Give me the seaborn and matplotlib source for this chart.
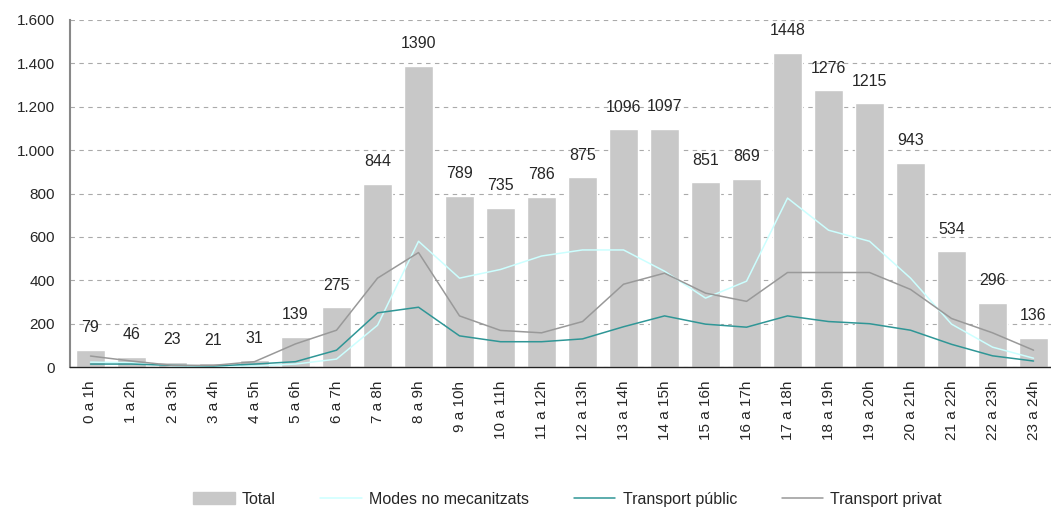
import matplotlib
matplotlib.use("Agg")
import matplotlib.pyplot as plt
import matplotlib.ticker as mticker
from matplotlib.patches import Patch
from matplotlib.lines import Line2D
import numpy as np
import pandas as pd
import seaborn as sns

# dades
franges = ['0 a 1h', '1 a 2h', '2 a 3h', '3 a 4h', '4 a 5h', '5 a 6h', '6 a 7h',
           '7 a 8h', '8 a 9h', '9 a 10h', '10 a 11h', '11 a 12h', '12 a 13h',
           '13 a 14h', '14 a 15h', '15 a 16h', '16 a 17h', '17 a 18h', '18 a 19h',
           '19 a 20h', '20 a 21h', '21 a 22h', '22 a 23h', '23 a 24h']
total = [79, 46, 23, 21, 31, 139, 275, 844, 1390, 789, 735, 786, 875, 1096,
         1097, 851, 869, 1448, 1276, 1215, 943, 534, 296, 136]
no_mecanitzats = [23, 20, 6, 5, 5, 14, 37, 193, 580, 410, 450, 512, 540, 540,
                  442, 318, 396, 779, 631, 580, 410, 198, 92, 41]
transport_public = [14, 14, 8, 5, 14, 25, 78, 250, 276, 144, 117, 117, 130, 186,
                    236, 198, 184, 236, 210, 200, 170, 105, 52, 28]
transport_privat = [51, 28, 8, 8, 25, 107, 170, 410, 528, 236, 169, 158, 210, 382,
                    433, 341, 303, 436, 436, 436, 358, 224, 158, 78]

df = pd.DataFrame({'franja': franges, 'total': total})
pos = np.arange(len(franges))

sns.set_style('white')
plt.rcParams['font.family'] = ['Liberation Sans', 'DejaVu Sans']

fig = plt.figure(figsize=(10.51, 5.12), dpi=100)
# l'eix s'estén una mica més enllà de la vora dreta, com a l'original
ax = fig.add_axes([0.0666, 0.283, 0.9363, 0.678])

sns.barplot(data=df, x='franja', y='total', order=franges, color='#c8c8c8',
            saturation=1, width=0.71, ax=ax, zorder=2)

# línies per mode
sns.lineplot(x=pos, y=no_mecanitzats, color='#ccffff', lw=1.1, ax=ax, zorder=3)
sns.lineplot(x=pos, y=transport_public, color='#2f9696', lw=1.1, ax=ax, zorder=3)
sns.lineplot(x=pos, y=transport_privat, color='#999999', lw=1.1, ax=ax, zorder=3)

# etiquetes dels totals
for i, v in enumerate(total):
    ax.annotate(str(v), (i, v), xytext=(0, 16), textcoords='offset points',
                ha='center', va='center', fontsize=11.5, annotation_clip=False)

ax.set_xlim(-0.5, len(franges) - 0.5)
ax.set_ylim(0, 1600)
ax.yaxis.set_major_locator(mticker.MultipleLocator(200))
ax.yaxis.set_major_formatter(mticker.FuncFormatter(
    lambda v, p: f'{int(v):,}'.replace(',', '.')))
ax.grid(axis='y', color='#aaaaaa', ls=(0, (4, 4)), lw=0.8, zorder=0)
ax.set_axisbelow(True)

ax.set_xlabel('')
ax.set_ylabel('')
ax.set_xticks(pos)
ax.set_xticklabels(franges, rotation=90, fontsize=11)
ax.tick_params(axis='x', which='major', length=0, pad=10)
ax.set_xticks(np.arange(-0.5, len(franges), 1), minor=True)
ax.tick_params(axis='x', which='minor', length=5, color='#555555', width=1)
ax.tick_params(axis='y', length=6, color='#444444', labelsize=11, pad=5)

for s in ['top', 'right']:
    ax.spines[s].set_visible(False)
ax.spines['left'].set_color('#888888')
ax.spines['left'].set_linewidth(1.5)
ax.spines['bottom'].set_color('#222222')
ax.spines['bottom'].set_linewidth(1)

handles = [Patch(color='#c8c8c8'),
           Line2D([], [], color='#ccffff', lw=1.1),
           Line2D([], [], color='#2f9696', lw=1.1),
           Line2D([], [], color='#999999', lw=1.1)]
labels = ['Total', 'Modes no mecanitzats', 'Transport públic', 'Transport privat']
fig.legend(handles, labels, loc='center', bbox_to_anchor=(0.54, 0.025), ncol=4,
           frameon=False, fontsize=11.5, handlelength=2.6, handleheight=0.8,
           columnspacing=2.8, handletextpad=0.45)

fig.savefig('out.png', dpi=100)
